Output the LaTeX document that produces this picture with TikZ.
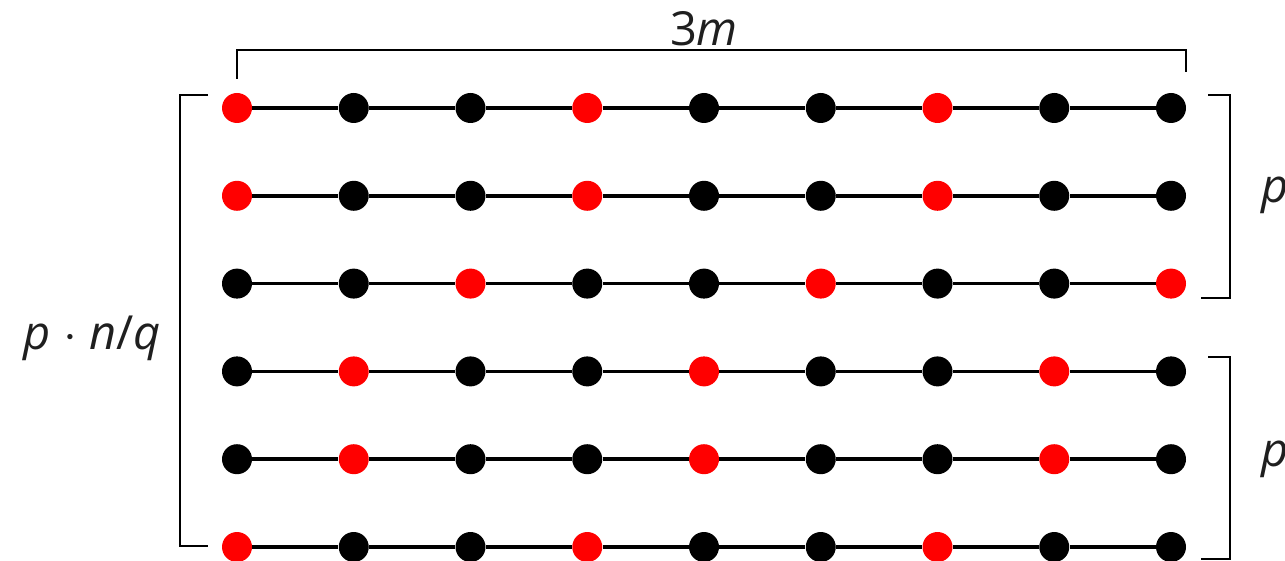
\documentclass[tikz,border=0pt]{standalone}
\usepackage{fontspec}
\setmainfont{Open Sans}
\begin{document}
\begin{tikzpicture}[x=0.5pt,y=-0.5pt,
  dot/.style={circle,fill=#1,inner sep=0pt,minimum size=15pt},
  dot/.default=black,
  link/.style={line width=1.8pt},
  brk/.style={line width=1pt},
  lbl/.style={font=\fontsize{23.5}{28}\selectfont,text=black!88,inner sep=0pt}]
\definecolor{hot}{RGB}{255,0,0}
\useasboundingbox (0,0) rectangle (1285,561);

% six rows of nine dots; the listed columns of each row are red
\foreach \r/\reds in {1/{0,3,6},2/{0,3,6},3/{2,5,8},4/{1,4,7},5/{1,4,7},6/{0,3,6}}{
  \pgfmathsetmacro\yy{108+87.8*(\r-1)}
  \foreach \c in {0,...,8}{
    \def\col{black}
    \foreach \k in \reds {\ifnum\k=\c\global\def\col{hot}\fi}
    \pgfmathsetmacro\xx{237+116.75*\c}
    \node[dot=\col] (d-\r-\c) at (\xx,\yy) {};
  }
}
% links between neighbouring dots of a row
\foreach \r in {1,...,6}{
  \foreach \c [evaluate=\c as \n using int(\c+1)] in {0,...,7}{
    \draw[link] (d-\r-\c) -- (d-\r-\n);
  }
}

% top dimension bracket
\coordinate (tl) at (237,79);
\coordinate (tr) at (1186,72);
\draw[brk] (tl) |- (711,50) -| (tr);
\node[lbl,anchor=base] (w) at (704,46) {3\itshape m};

% left bracket
\coordinate (la) at (208,95);
\coordinate (lb) at (208,546);
\draw[brk] (la) -| (180,320) |- (lb);
\node[lbl,anchor=base east] (h) at (161,350) {\itshape p \upshape$\cdot$ \itshape n\upshape/\itshape q};

% right brackets
\coordinate (ra) at (1208,95);
\coordinate (rb) at (1201,298);
\draw[brk] (ra) -| (1230,200) |- (rb);
\node[lbl,anchor=base west] (p1) at (1261,203) {\itshape p};

\coordinate (rc) at (1208,357);
\coordinate (rd) at (1201,559);
\draw[brk] (rc) -| (1230,460) |- (rd);
\node[lbl,anchor=base west] (p2) at (1261,466) {\itshape p};
\end{tikzpicture}
\end{document}
